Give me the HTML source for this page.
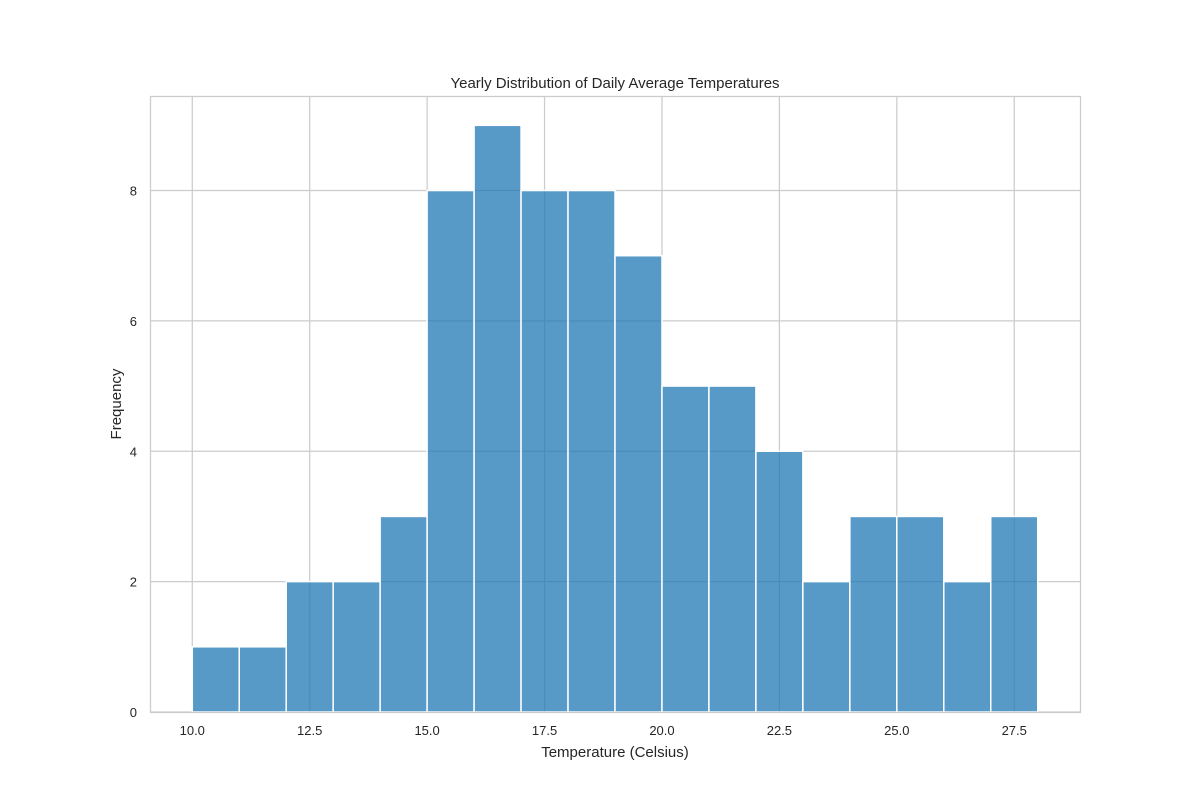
<!DOCTYPE html>
<html><head><meta charset="utf-8"><style>
body{margin:0;background:#fff;}
svg text{font-family:"Liberation Sans","DejaVu Sans",sans-serif;fill:#262626;}
</style></head><body>
<svg id="chart" width="1200" height="800">
<rect x="0" y="0" width="1200" height="800" fill="#fff"/>
<g id="grid"></g><g id="bars"></g><g id="ticks"></g>
<rect x="150.5" y="96.5" width="930" height="616" fill="none" stroke="#cccccc" stroke-width="1.25"/>
<text x="615" y="88" text-anchor="middle" font-size="15">Yearly Distribution of Daily Average Temperatures</text>
<text x="615" y="757" text-anchor="middle" font-size="15">Temperature (Celsius)</text>
<text x="121" y="404" text-anchor="middle" font-size="15" transform="rotate(-90 121 404)">Frequency</text>
</svg>
<script>
const binStart = 10;
const binWidth = 1;
const counts = [1,1,2,2,3,8,9,8,8,7,5,5,4,2,3,3,2,3];
const xTicks = [10.0,12.5,15.0,17.5,20.0,22.5,25.0,27.5];
const yTicks = [0,2,4,6,8];
const L=150,R=1080,T=96,B=712;
const xmin=9.1,xmax=28.9,ymin=0,ymax=9.45;
const X=v=>L+(v-xmin)/(xmax-xmin)*(R-L);
const Y=v=>B-(v-ymin)/(ymax-ymin)*(B-T);
const NS="http://www.w3.org/2000/svg";
const g=document.getElementById('grid'),b=document.getElementById('bars'),t=document.getElementById('ticks');
function mk(tag,attrs,parent){const e=document.createElementNS(NS,tag);for(const k in attrs)e.setAttribute(k,attrs[k]);parent.appendChild(e);return e;}
xTicks.forEach(v=>{
 const l=mk('line',{x1:X(v),x2:X(v),y1:T,y2:B,stroke:'#cccccc','stroke-width':1.25},g);
 
 
 const tx=mk('text',{x:X(v),y:B+23,'text-anchor':'middle','font-size':13},t);
 tx.textContent=v.toFixed(1);
 
 
});
yTicks.forEach(v=>{
 const l=mk('line',{x1:L,x2:R,y1:Y(v),y2:Y(v),stroke:'#cccccc','stroke-width':1.25},g);
 
 
 const tx=mk('text',{x:L-13,y:Y(v)+5,'text-anchor':'end','font-size':13},t);
 tx.textContent=v;
 
 
});
counts.forEach((c,i)=>{
 const x0=binStart+i*binWidth,x1=x0+binWidth;
 const r=mk('rect',{x:X(x0),y:Y(c),width:X(x1)-X(x0),height:Y(0)-Y(c),fill:'#1f77b4','fill-opacity':0.75,stroke:'#ffffff','stroke-width':1.5},b);
 
 
});
</script>
</body></html>
